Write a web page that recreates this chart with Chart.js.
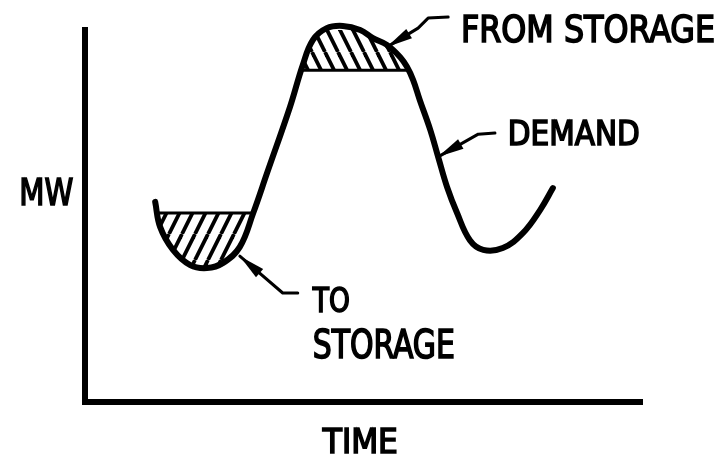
<!DOCTYPE html>
<html>
<head>
<meta charset="utf-8">
<script src="https://cdn.jsdelivr.net/npm/chart.js@4/dist/chart.umd.min.js"></script>
<style>
  html, body { margin: 0; padding: 0; background: #fff; }
</style>
</head>
<body>
<canvas id="myChart" width="723" height="458"></canvas>
<script>
// demand curve (time and MW in arbitrary 0-100 units)
const time = [12.6, 13.5, 15.8, 18.9, 21.9, 24.8, 27.8, 30.2, 32.7, 36.8, 39.1, 40.9, 43.4, 46.3, 49.4,
              51.7, 54.2, 56.6, 57.8, 58.9, 60.1, 62.0, 63.4, 65.0, 66.8, 69.1, 71.5, 75.0, 78.6, 81.7, 84.0]
const demand = [53.8, 47.0, 40.9, 36.8, 36.0, 37.4, 41.7, 50.8, 61.6, 79.3, 90.6, 97.3, 100.5, 101.1, 100.0,
                97.8, 96.0, 92.7, 90.1, 86.6, 81.2, 73.1, 65.9, 57.8, 50.8, 43.5, 40.9, 41.4, 45.4, 51.6, 57.5]

// storage levels (MW) and the time span where the curve crosses them
const toStorageLevel = 50.8
const toStorageSpan = [13.0, 30.2]
const fromStorageLevel = 89.2
const fromStorageSpan = [38.8, 58.1]

// labels: text, anchor [time, MW] (left / baseline), width px, cap height px
const labels = [
    { text: 'FROM STORAGE', at: [67.5, 96.8], w: 254, cap: 27 },
    { text: 'DEMAND', at: [75.9, 69.1], w: 132, cap: 25 },
    { text: 'TO', at: [40.9, 24.2], w: 37, cap: 24 },
    { text: 'STORAGE', at: [40.9, 11.8], w: 142, cap: 28 },
    { text: 'MW', at: [-11.8, 53.0], w: 54, cap: 27 },
    { text: 'TIME', at: [42.7, -13.7], w: 75, cap: 25 }
]

// leader arrows: first point is the tip
const arrows = [
    [[54.2, 95.4], [59.8, 100.5], [61.6, 103.2], [65.2, 103.5]],
    [[63.4, 65.9], [70.6, 72.0], [73.6, 72.3]],
    [[27.8, 39.2], [35.5, 29.3], [38.2, 29.3]]
]

let curve = time.map((t, i) => ({ x: t, y: demand[i] }))

function region(span, level) {
    let pts = curve.filter(p => p.x > span[0] && p.x < span[1])
    return [{ x: span[0], y: level }].concat(pts, [{ x: span[1], y: level }])
}

function hatch(dir) {
    let c = document.createElement('canvas')
    c.width = 13
    c.height = 26
    let g = c.getContext('2d')
    g.strokeStyle = '#000'
    g.lineWidth = 3.8
    for (let off of [-13, 0, 13]) {
        g.beginPath()
        if (dir > 0) { g.moveTo(off, 26); g.lineTo(off + 13, 0) }
        else { g.moveTo(off, 0); g.lineTo(off + 13, 26) }
        g.stroke()
    }
    return g.createPattern(c, 'repeat')
}

const notes = {
    id: 'notes',
    afterDatasetsDraw(chart) {
        let ctx = chart.ctx
        let sx = chart.scales.x, sy = chart.scales.y
        let px = p => [sx.getPixelForValue(p[0]), sy.getPixelForValue(p[1])]
        ctx.save()
        ctx.fillStyle = '#000'
        ctx.strokeStyle = '#000'
        ctx.lineCap = 'round'
        ctx.lineJoin = 'round'

        arrows.forEach(a => {
            let pts = a.map(px)
            ctx.lineWidth = 3
            ctx.beginPath()
            ctx.moveTo(pts[0][0], pts[0][1])
            for (let i = 1; i < pts.length; i++) ctx.lineTo(pts[i][0], pts[i][1])
            ctx.stroke()
            // dart head
            let dx = pts[1][0] - pts[0][0], dy = pts[1][1] - pts[0][1]
            let len = Math.hypot(dx, dy)
            let ux = dx / len, uy = dy / len
            let L = Math.min(26, len * 0.75), hw = 5.5
            ctx.beginPath()
            ctx.moveTo(pts[0][0], pts[0][1])
            ctx.lineTo(pts[0][0] + ux * L - uy * hw, pts[0][1] + uy * L + ux * hw)
            ctx.lineTo(pts[0][0] + ux * L + uy * hw, pts[0][1] + uy * L - ux * hw)
            ctx.closePath()
            ctx.fill()
        })

        labels.forEach(l => {
            let p = px(l.at)
            let size = l.cap / 0.729
            ctx.font = size + 'px "DejaVu Sans Condensed", "DejaVu Sans", sans-serif'
            ctx.textBaseline = 'alphabetic'
            let w = ctx.measureText(l.text).width
            ctx.save()
            ctx.translate(p[0], p[1])
            ctx.scale(l.w / w, 1)
            ctx.lineWidth = 1.6
            ctx.lineJoin = 'miter'
            ctx.fillText(l.text, 0, 0)
            ctx.strokeText(l.text, 0, 0)
            ctx.restore()
        })
        ctx.restore()
    }
}

var chart = new Chart('myChart', {
    type: 'line',
    data: {
        datasets: [
            {
                label: 'Demand',
                data: curve,
                borderColor: '#000',
                borderWidth: 6,
                borderCapStyle: 'round',
                borderJoinStyle: 'round',
                tension: 0.4,
                pointRadius: 0,
                fill: false,
                clip: false,
                order: 0
            },
            {
                label: 'to storage level',
                data: [{ x: toStorageSpan[0], y: toStorageLevel }, { x: toStorageSpan[1], y: toStorageLevel }],
                borderColor: '#000',
                borderWidth: 3,
                pointRadius: 0,
                fill: false,
                order: 1
            },
            {
                label: 'from storage level',
                data: [{ x: fromStorageSpan[0], y: fromStorageLevel }, { x: fromStorageSpan[1], y: fromStorageLevel }],
                borderColor: '#000',
                borderWidth: 3,
                pointRadius: 0,
                fill: false,
                order: 1
            },
            {
                label: 'To storage',
                data: region(toStorageSpan, toStorageLevel),
                borderWidth: 0,
                pointRadius: 0,
                tension: 0.4,
                backgroundColor: hatch(1),
                fill: { value: toStorageLevel },
                clip: false,
                order: 2
            },
            {
                label: 'From storage',
                data: region(fromStorageSpan, fromStorageLevel),
                borderWidth: 0,
                pointRadius: 0,
                tension: 0.4,
                backgroundColor: hatch(-1),
                fill: { value: fromStorageLevel },
                clip: false,
                order: 2
            }
        ]
    },
    options: {
        responsive: false,
        animation: false,
        devicePixelRatio: 1,
        layout: { padding: { left: 85, right: 81, top: 30, bottom: 56 } },
        plugins: { legend: { display: false }, tooltip: { enabled: false } },
        scales: {
            x: {
                type: 'linear', min: 0, max: 100,
                grid: { display: false, drawTicks: false },
                ticks: { display: false },
                border: { display: true, color: '#000', width: 6 }
            },
            y: {
                min: 0, max: 100,
                grid: { display: false, drawTicks: false },
                ticks: { display: false },
                border: { display: true, color: '#000', width: 6 }
            }
        }
    },
    plugins: [notes]
})
</script>
</body>
</html>
